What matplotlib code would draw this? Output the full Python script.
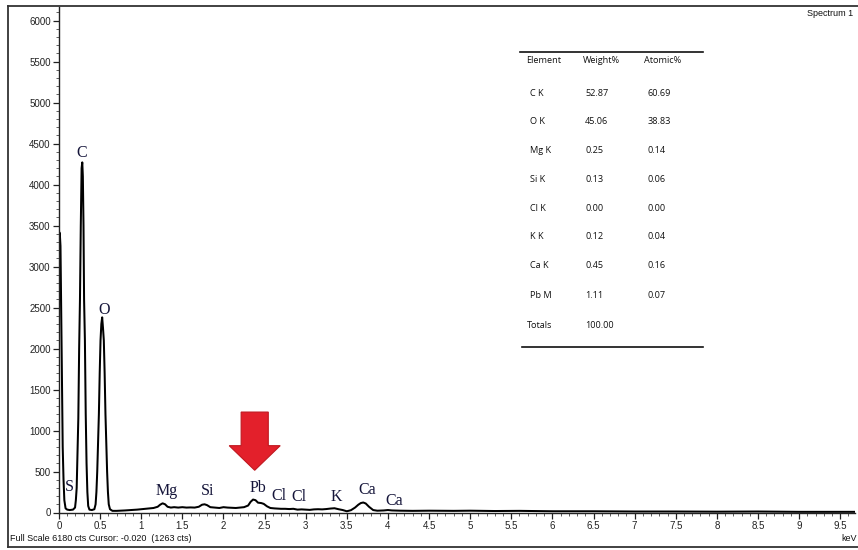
import matplotlib
matplotlib.use("Agg")
import matplotlib.pyplot as plt
from matplotlib.ticker import MultipleLocator, FuncFormatter
from matplotlib.patches import FancyArrow

# ---------------- data ----------------
energy_kev = [
    0.000, 0.003, 0.010, 0.018, 0.025, 0.035, 0.045, 0.055, 0.065, 0.080, 0.100, 0.130, 0.170, 0.195,
    0.205, 0.215, 0.225, 0.235, 0.245, 0.255, 0.265, 0.275, 0.283, 0.290, 0.298, 0.305, 0.315, 0.325,
    0.335, 0.345, 0.355, 0.370, 0.400, 0.430,
    0.445, 0.455, 0.465, 0.475, 0.485, 0.495, 0.505, 0.515, 0.525, 0.535, 0.545, 0.555, 0.565, 0.575,
    0.585, 0.595, 0.605, 0.620, 0.650,
    0.70, 0.75, 0.80, 0.85, 0.90, 0.95, 1.00, 1.05, 1.10, 1.15, 1.20,
    1.23, 1.26, 1.29, 1.32, 1.36, 1.40, 1.45, 1.50, 1.55, 1.60, 1.65, 1.70,
    1.74, 1.77, 1.80, 1.84, 1.90, 1.95, 2.00, 2.05, 2.10, 2.15, 2.20, 2.25, 2.30,
    2.33, 2.36, 2.39, 2.42, 2.46, 2.49, 2.53, 2.57, 2.62, 2.70, 2.75, 2.80, 2.85, 2.90, 2.95, 3.00,
    3.05, 3.10, 3.15, 3.20, 3.25, 3.30, 3.35, 3.40, 3.45, 3.50, 3.55, 3.60,
    3.64, 3.67, 3.70, 3.73, 3.77, 3.82, 3.87, 3.95, 4.00, 4.05, 4.15, 4.30, 4.50, 4.80, 5.00, 5.30,
    5.60, 6.00, 6.50, 7.00, 7.50, 8.00, 8.50, 9.00, 9.50, 9.68,
]
counts = [
    2300, 3420, 3400, 3250, 2600, 1550, 800, 400, 150, 50, 35, 30, 35, 60,
    150, 300, 700, 1150, 2000, 2600, 3500, 4200, 4270, 4100, 3500, 2600, 2100, 1200,
    600, 250, 80, 35, 30, 40,
    100, 250, 500, 850, 1200, 1700, 2100, 2300, 2380, 2250, 2100, 1700, 1200, 850,
    500, 250, 100, 40, 20,
    20, 22, 25, 28, 30, 35, 40, 45, 50, 55, 70,
    95, 112, 100, 70, 60, 65, 60, 65, 60, 62, 60, 70,
    95, 100, 90, 65, 60, 55, 65, 60, 58, 55, 60, 65, 85,
    130, 158, 150, 120, 115, 105, 75, 55, 50, 45, 45, 42, 45, 35, 38, 35,
    32, 38, 40, 38, 42, 48, 52, 40, 30, 15, 28, 60,
    95, 115, 122, 110, 70, 30, 22, 25, 30, 25, 22, 20, 22, 20, 22, 18,
    20, 15, 15, 12, 12, 10, 12, 8, 8, 8,
]

peak_labels = ["S", "C", "O", "Mg", "Si", "Pb", "Cl", "Cl", "K", "Ca", "Ca"]
label_energy = [0.13, 0.27, 0.545, 1.31, 1.81, 2.42, 2.68, 2.92, 3.37, 3.75, 4.08]
label_counts = [310, 4380, 2470, 260, 260, 300, 200, 190, 190, 275, 140]

table_header = ["Element", "Weight%", "Atomic%"]
table_elements = ["C K", "O K", "Mg K", "Si K", "Cl K", "K K", "Ca K", "Pb M", "Totals"]
table_weight = ["52.87", "45.06", "0.25", "0.13", "0.00", "0.12", "0.45", "1.11", "100.00"]
table_atomic = ["60.69", "38.83", "0.14", "0.06", "0.00", "0.04", "0.16", "0.07", ""]

arrow_energy = 2.38
arrow_top, arrow_tip = 1225, 515

xlim = (0.0, 9.68)
ylim = (0, 6165)

# ---------------- figure ----------------
W, H = 858, 550
fig = plt.figure(figsize=(W / 100, H / 100), dpi=100)

def fx(px):
    return px / W

def fy(py):
    return 1 - py / H

ax = fig.add_axes([fx(59), fy(512.5), fx(855) - fx(59), fy(7) - fy(512.5)])
ax.plot(energy_kev, counts, color="black", lw=1.45, solid_joinstyle="round")
ax.set_xlim(*xlim)
ax.set_ylim(*ylim)

for s in ["top", "right"]:
    ax.spines[s].set_visible(False)
for s in ["left", "bottom"]:
    ax.spines[s].set_linewidth(1.0)
    ax.spines[s].set_color("#222222")

ax.xaxis.set_major_locator(MultipleLocator(0.5))
ax.xaxis.set_minor_locator(MultipleLocator(0.1))
ax.yaxis.set_major_locator(MultipleLocator(500))
ax.yaxis.set_minor_locator(MultipleLocator(100))
ax.xaxis.set_major_formatter(FuncFormatter(lambda v, p: f"{v:g}"))
ax.yaxis.set_major_formatter(FuncFormatter(lambda v, p: f"{int(v)}"))
ax.tick_params(axis="both", which="major", direction="out", length=4, width=0.9,
               labelsize=7, colors="#222222", pad=2)
ax.tick_params(axis="both", which="minor", direction="out", length=2, width=0.6, colors="#444444")
for lab in ax.get_xticklabels() + ax.get_yticklabels():
    lab.set_fontfamily("Liberation Sans")

# peak labels
for t, e, c in zip(peak_labels, label_energy, label_counts):
    ax.text(e, c, t, family="Liberation Serif", fontsize=11.5, color="#15153a",
            ha="center", va="center")

# red arrow
ax.add_patch(FancyArrow(arrow_energy, arrow_top, 0, arrow_tip - arrow_top,
                        width=0.33, head_width=0.62, head_length=300,
                        length_includes_head=True, facecolor="#e3202b",
                        edgecolor="#c01820", lw=0.8, zorder=5))

# table
tfont = dict(family="Open Sans", fontsize=6.6, color="#111111", va="center", fontweight="medium")
fig.add_artist(plt.Line2D([fx(520), fx(703)], [fy(51.5), fy(51.5)], color="#111111", lw=1.2))
fig.add_artist(plt.Line2D([fx(522), fx(703)], [fy(347), fy(347)], color="#111111", lw=1.2))
fig.text(fx(526), fy(60.7), table_header[0], **tfont)
fig.text(fx(583), fy(60.7), table_header[1], **tfont)
fig.text(fx(644), fy(60.7), table_header[2], **tfont)
row_y = [93.3, 121.7, 150.7, 179.3, 208.3, 236.7, 265, 295, 325]
for i, yy in enumerate(row_y):
    xe = 526.5 if table_elements[i] == "Totals" else 529.5
    fig.text(fx(xe), fy(yy), table_elements[i], **tfont)
    fig.text(fx(585), fy(yy), table_weight[i], **tfont)
    fig.text(fx(648), fy(yy), table_atomic[i], **tfont)

# annotations / frame (top, left, bottom borders only; right side is cropped)
sfont = dict(family="Liberation Sans", fontsize=6.5, color="#111111")
fig.text(fx(853), fy(14), "Spectrum 1", ha="right", va="center", **sfont)
fig.text(fx(10), fy(538.5), "Full Scale 6180 cts Cursor: -0.020  (1263 cts)", ha="left", va="center", **sfont)
fig.text(fx(857), fy(538.5), "keV", ha="right", va="center", **sfont)
frame_kw = dict(color="#333333", lw=1.3)
fig.add_artist(plt.Line2D([fx(8), fx(858)], [fy(6), fy(6)], **frame_kw))
fig.add_artist(plt.Line2D([fx(8), fx(858)], [fy(547), fy(547)], **frame_kw))
fig.add_artist(plt.Line2D([fx(8), fx(8)], [fy(6), fy(547)], **frame_kw))

fig.savefig("out.png", dpi=100)
